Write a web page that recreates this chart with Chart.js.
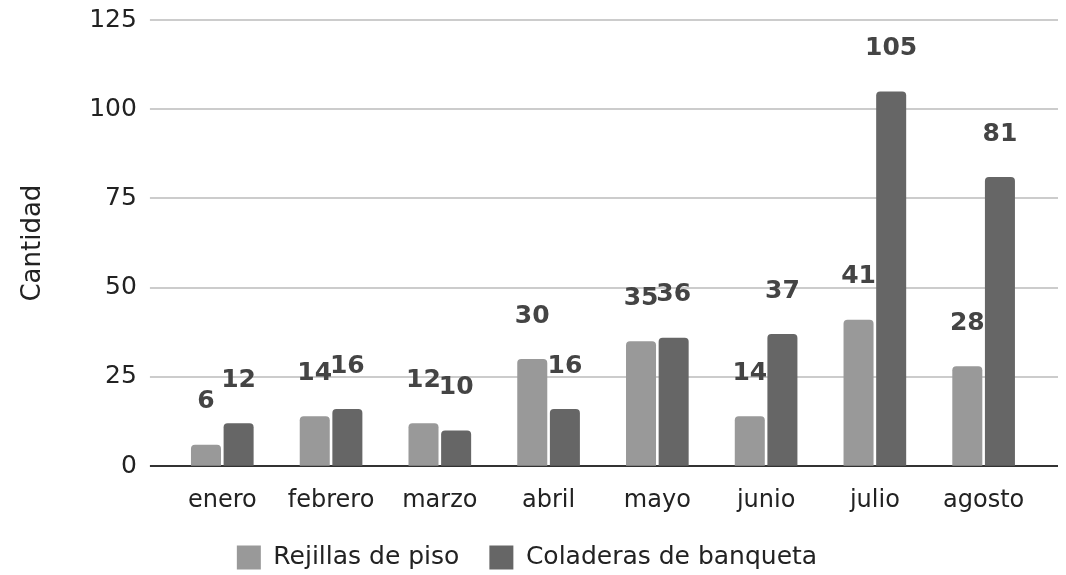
<!DOCTYPE html>
<html>
<head>
<meta charset="utf-8">
<script src="https://cdn.jsdelivr.net/npm/chart.js@4.4.1/dist/chart.umd.min.js"></script>
<style>
  html, body { margin: 0; padding: 0; background: #fff; }
  #wrap { width: 1066px; height: 575px; }
</style>
</head>
<body>
<div id="wrap"><canvas id="myChart" width="1066" height="575"></canvas></div>
<script>
// data
const meses = ["enero", "febrero", "marzo", "abril", "mayo", "junio", "julio", "agosto"];
const rejillas = [6, 14, 12, 30, 35, 14, 41, 28];
const coladeras = [12, 16, 10, 16, 36, 37, 105, 81];
const yTicks = [0, 25, 50, 75, 100, 125];

const fontName = "'DejaVu Sans', Verdana, sans-serif";

// horizontal grid, a bit wider than the bars area
const gridLines = {
  id: "gridLines",
  beforeDatasetsDraw(chart) {
    const ctx = chart.ctx;
    const area = chart.chartArea;
    const y = chart.scales.y;
    ctx.save();
    yTicks.forEach(function(v) {
      const py = Math.round(y.getPixelForValue(v));
      ctx.beginPath();
      ctx.lineWidth = 2;
      ctx.strokeStyle = v === 0 ? "#333333" : "#cccccc";
      ctx.moveTo(area.left - 18, py);
      ctx.lineTo(area.right + 20, py);
      ctx.stroke();
    });
    ctx.restore();
  }
};

// bold value labels above the bars
const valueLabels = {
  id: "valueLabels",
  afterDatasetsDraw(chart) {
    const ctx = chart.ctx;
    ctx.save();
    ctx.font = "bold 25px " + fontName;
    ctx.fillStyle = "#444444";
    ctx.textAlign = "center";
    ctx.textBaseline = "middle";
    chart.data.datasets.forEach(function(ds, i) {
      chart.getDatasetMeta(i).data.forEach(function(bar, j) {
        ctx.fillText(ds.data[j], bar.x, bar.y - 43);
      });
    });
    ctx.restore();
  }
};

const ctx = document.getElementById("myChart").getContext("2d");
const chart = new Chart(ctx, {
  type: "bar",
  data: {
    labels: meses,
    datasets: [
      {
        label: "Rejillas de piso",
        backgroundColor: "#999999",
        data: rejillas,
        borderRadius: 4,
        borderSkipped: "bottom"
      },
      {
        label: "Coladeras de banqueta",
        backgroundColor: "#666666",
        data: coladeras,
        borderRadius: 4,
        borderSkipped: "bottom"
      }
    ]
  },
  options: {
    responsive: false,
    animation: false,
    layout: { padding: { top: 20, right: 28, left: 16, bottom: 0 } },
    datasets: { bar: { categoryPercentage: 0.6, barPercentage: 0.92 } },
    plugins: {
      tooltip: { enabled: false },
      legend: {
        position: "bottom",
        maxHeight: 60,
        labels: {
          color: "#222222",
          font: { family: fontName, size: 25 },
          boxWidth: 24,
          boxHeight: 24,
          padding: 30
        }
      }
    },
    scales: {
      x: {
        // ticks hidden, their length only spaces the labels
        grid: { display: false, tickLength: 20 },
        border: { display: false },
        ticks: {
          color: "#222222",
          font: { family: fontName, size: 24 },
          padding: 0
        }
      },
      y: {
        min: 0,
        max: 125,
        afterBuildTicks(axis) {
          axis.ticks = yTicks.map(v => ({ value: v }));
        },
        grid: {
          color: "rgba(0,0,0,0)",
          drawOnChartArea: false,
          drawTicks: true,
          tickLength: 28
        },
        border: { display: false },
        title: {
          display: true,
          text: "Cantidad",
          color: "#222222",
          font: { family: fontName, size: 26 },
          padding: { top: 2, bottom: 37 }
        },
        ticks: {
          color: "#222222",
          font: { family: fontName, size: 25 },
          padding: 3
        }
      }
    }
  },
  plugins: [gridLines, valueLabels]
});
</script>
</body>
</html>
